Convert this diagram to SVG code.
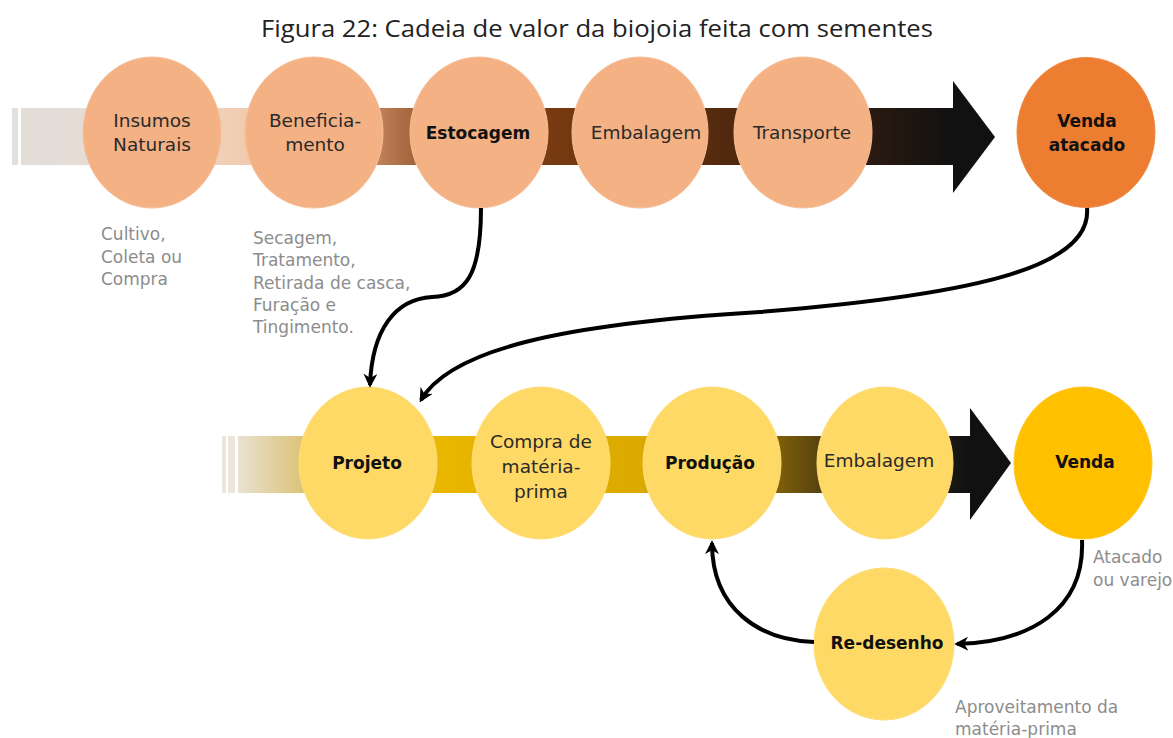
<svg xmlns="http://www.w3.org/2000/svg" width="1173" height="738" viewBox="0 0 1173 738">
<style>
.title{font-family:"Open Sans","Liberation Sans",sans-serif;font-size:23.5px;fill:#222}
.lbl{font-family:"DejaVu Sans","Liberation Sans",sans-serif;font-size:18.5px;fill:#2a2a2a;text-anchor:middle}
.b{font-weight:bold;font-size:17px;fill:#111}
.note{font-family:"DejaVu Sans","Liberation Sans",sans-serif;font-size:17px;fill:#8c8c8c}
.peach{fill:#f4b183;stroke:#f6bf98;stroke-width:1}
.orange{fill:#ed7d31;stroke:#ef8a45;stroke-width:1}
.yel{fill:#ffd966;stroke:#ffdd7a;stroke-width:1}
.gold{fill:#ffc000;stroke:#ffc622;stroke-width:1}
.con{fill:none;stroke:#000;stroke-width:4;marker-end:url(#ah)}
</style>
<defs>
<linearGradient id="gTop" gradientUnits="userSpaceOnUse" x1="21" y1="0" x2="953" y2="0">
<stop offset="0" stop-color="#e3ddd8"/>
<stop offset="0.14" stop-color="#e7dcd3"/>
<stop offset="0.23" stop-color="#f1cdb2"/>
<stop offset="0.3" stop-color="#efbf9e"/>
<stop offset="0.385" stop-color="#bd805a"/>
<stop offset="0.42" stop-color="#a5653d"/>
<stop offset="0.57" stop-color="#783a10"/>
<stop offset="0.76" stop-color="#52290e"/>
<stop offset="0.91" stop-color="#2a1a10"/>
<stop offset="1" stop-color="#111"/>
</linearGradient>
<linearGradient id="gBot" gradientUnits="userSpaceOnUse" x1="238" y1="0" x2="970" y2="0">
<stop offset="0" stop-color="#e8e2d2"/>
<stop offset="0.085" stop-color="#dcc47a"/>
<stop offset="0.28" stop-color="#e9b700"/>
<stop offset="0.55" stop-color="#dcaa00"/>
<stop offset="0.74" stop-color="#7d5e08"/>
<stop offset="0.79" stop-color="#5a4510"/>
<stop offset="1" stop-color="#111"/>
</linearGradient>
<marker id="ah" viewBox="0 0 10 10" refX="8" refY="5" markerWidth="14" markerHeight="14" markerUnits="userSpaceOnUse" orient="auto">
<path d="M0,0 L10,5 L0,10 L3,5 z" fill="#000"/>
</marker>
</defs>

<text class="title" x="597" y="37" text-anchor="middle" textLength="672" lengthAdjust="spacingAndGlyphs">Figura 22: Cadeia de valor da biojoia feita com sementes</text>

<g id="arrowTop">
<rect x="12" y="108" width="6" height="57" fill="#e3dfdc"/>
<rect x="21" y="108" width="933" height="57" fill="url(#gTop)"/>
<polygon points="953,81 995,137 953,193" fill="#111"/>
</g>
<g id="arrowBottom">
<rect x="222" y="436" width="4" height="57" fill="#ece6dc"/>
<rect x="228" y="436" width="7" height="57" fill="#ebe5da"/>
<rect x="238" y="436" width="733" height="57" fill="url(#gBot)"/>
<polygon points="970,408 1011,463 970,520" fill="#111"/>
</g>

<g id="insumos"><ellipse class="peach" cx="152" cy="132.5" rx="69" ry="75.5"/><text class="lbl" x="152" y="127">Insumos</text><text class="lbl" x="152" y="151">Naturais</text></g>
<g id="beneficiamento"><ellipse class="peach" cx="314" cy="132.5" rx="69" ry="75.5"/><text class="lbl" x="315" y="127">Beneficia-</text><text class="lbl" x="315" y="151">mento</text></g>
<g id="estocagem"><ellipse class="peach" cx="479" cy="132.5" rx="69" ry="75.5"/><text class="lbl b" x="478" y="139">Estocagem</text></g>
<g id="embalagem1"><ellipse class="peach" cx="640" cy="132.5" rx="68" ry="75.5"/><text class="lbl" x="646" y="139">Embalagem</text></g>
<g id="transporte"><ellipse class="peach" cx="803" cy="132.5" rx="69" ry="75.5"/><text class="lbl" x="802" y="139">Transporte</text></g>
<g id="vendaAtacado"><ellipse class="orange" cx="1086" cy="132.5" rx="69" ry="75"/><text class="lbl b" x="1087" y="127">Venda</text><text class="lbl b" x="1087" y="151">atacado</text></g>

<g id="projeto"><ellipse class="yel" cx="368" cy="463" rx="69" ry="76"/><text class="lbl b" x="367" y="469">Projeto</text></g>
<g id="compra"><ellipse class="yel" cx="541" cy="463" rx="69" ry="76"/><text class="lbl" x="541" y="448">Compra de</text><text class="lbl" x="541" y="473">matéria-</text><text class="lbl" x="541" y="498">prima</text></g>
<g id="producao"><ellipse class="yel" cx="712" cy="463" rx="69" ry="76"/><text class="lbl b" x="710" y="469">Produção</text></g>
<g id="embalagem2"><ellipse class="yel" cx="885" cy="463" rx="68" ry="76"/><text class="lbl" x="879" y="467">Embalagem</text></g>
<g id="venda"><ellipse class="gold" cx="1083" cy="463" rx="69" ry="76"/><text class="lbl b" x="1085" y="468">Venda</text></g>
<g id="redesenho"><ellipse class="yel" cx="884" cy="644" rx="70" ry="76"/><text class="lbl b" x="887" y="649">Re-desenho</text></g>

<g id="notes">
<text class="note" x="101" y="240">Cultivo,</text>
<text class="note" x="101" y="263">Coleta ou</text>
<text class="note" x="101" y="285">Compra</text>
<text class="note" x="253" y="244">Secagem,</text>
<text class="note" x="253" y="266">Tratamento,</text>
<text class="note" x="253" y="289">Retirada de casca,</text>
<text class="note" x="253" y="311">Furação e</text>
<text class="note" x="253" y="333">Tingimento.</text>
<text class="note" x="1093" y="563">Atacado</text>
<text class="note" x="1093" y="586">ou varejo</text>
<text class="note" x="955" y="713">Aproveitamento da</text>
<text class="note" x="955" y="735">matéria-prima</text>
</g>

<g id="connectors">
<path class="con" d="M481,208 C481,275 466,296 432,297 C395,299 372,330 370,385"/>
<path class="con" d="M1087,208 C1092,265 985,294 760,312 C560,324 450,350 421,400"/>
<path class="con" d="M1082,540 C1085,610 1030,642 957,644"/>
<path class="con" d="M814,642 C760,640 712,610 712,543"/>
</g>
</svg>
